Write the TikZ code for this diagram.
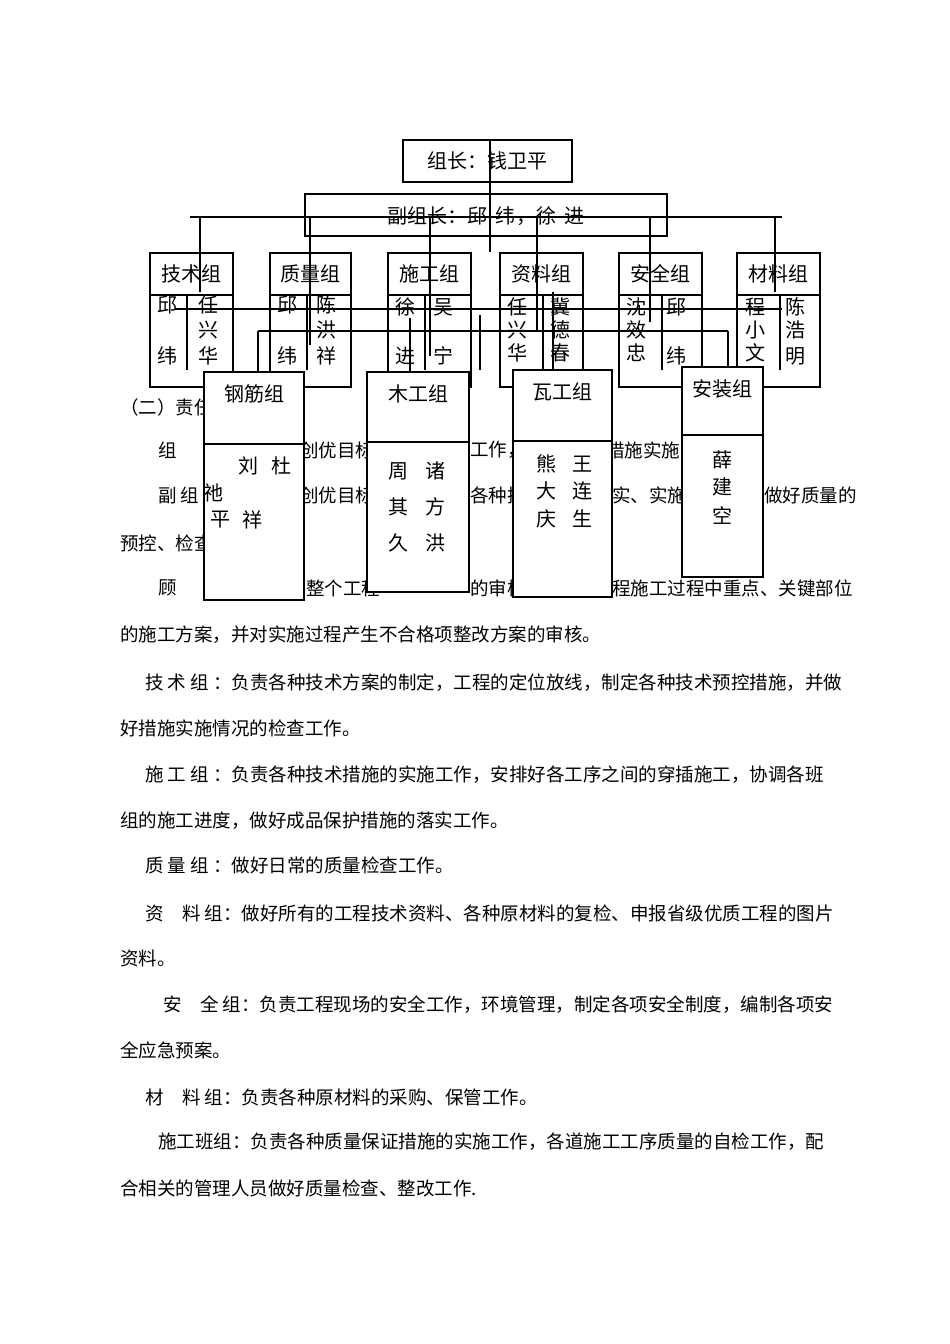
\documentclass[tikz,border=0pt]{standalone}
\usepackage{fontspec}
\setmainfont{Noto Sans CJK SC}
\begin{document}
\begin{tikzpicture}[x=1pt,y=-1pt,
  bx/.style={draw,line width=1.8pt,fill=white},
  ln/.style={line width=1.8pt},
  tx/.style={font=\fontsize{18.5}{18.5}\selectfont,inner sep=0pt,anchor=west},
  ch/.style={font=\fontsize{20}{20}\selectfont,inner sep=0pt}]
\useasboundingbox (0,0) rectangle (950,1344);
% body text (under the boxes)
\node[tx] at (120,407) {（二）责任};
\node[tx] at (158,450) {组};
\node[tx] at (300,450) {创优目标};
\node[tx] at (470,450) {工作，};
\node[tx] at (606,450) {措施实施};
\node[tx] at (158,495) {副 组};
\node[tx] at (300,495) {创优目标};
\node[tx] at (470,495) {各种措};
\node[tx] at (612,495) {实、实施};
\node[tx] at (764,495) {做好质量的};
\node[tx] at (120,543) {预控、检查};
\node[tx] at (158,588) {顾};
\node[tx] at (306,588) {整个工程};
\node[tx] at (470,588) {的审核};
\node[tx] at (612,588) {程施工过程中重点、关键部位};
\node[tx] at (120,635) {的施工方案，并对实施过程产生不合格项整改方案的审核。};
\node[tx] at (145,683) {技 术 组 ：负责各种技术方案的制定，工程的定位放线，制定各种技术预控措施，并做};
\node[tx] at (120,728) {好措施实施情况的检查工作。};
\node[tx] at (145,775) {施 工 组 ：负责各种技术措施的实施工作，安排好各工序之间的穿插施工，协调各班};
\node[tx] at (120,821) {组的施工进度，做好成品保护措施的落实工作。};
\node[tx] at (145,865) {质 量 组 ：做好日常的质量检查工作。};
\node[tx] at (145,913) {资　料 组：做好所有的工程技术资料、各种原材料的复检、申报省级优质工程的图片};
\node[tx] at (120,958) {资料。};
\node[tx] at (163,1005) {安　全 组：负责工程现场的安全工作，环境管理，制定各项安全制度，编制各项安};
\node[tx] at (120,1050) {全应急预案。};
\node[tx] at (145,1097) {材　料 组：负责各种原材料的采购、保管工作。};
\node[tx] at (158,1142) {施工班组：负责各种质量保证措施的实施工作，各道施工工序质量的自检工作，配};
\node[tx] at (120,1188) {合相关的管理人员做好质量检查、整改工作.};
% top boxes
\draw[bx] (403,140) rectangle (572,182) node[midway,ch] (zz) {组长：钱卫平};
\draw[bx] (305,194) rectangle (667,236);
\node[ch] (fz) at (486,216) {副组长：邱\ \ 纬，徐\ \ 进};
\foreach \a/\b/\n/\t in {150/233/js/技术组,270/351/zl/质量组,388/471/sg/施工组,500/583/zlz/资料组,619/702/aq/安全组,737/820/cl/材料组}{
  \draw[bx] (\a,253) rectangle (\b,387);
  \draw[ln] (\a,295) -- (\b,295);
  \node[ch] (\n) at ({(\a+\b)/2},274) {\t};
}
\foreach \x in {187,307,425,543,662,780}{\draw[ln] (\x,295) -- (\x,370);}
% names top row
\foreach \x/\y/\c in {167/305/邱,167/356/纬,208/305/任,208/330/兴,208/356/华,
  287/305/邱,287/356/纬,326/305/陈,326/330/洪,326/356/祥,
  405/307/徐,405/356/进,443/307/吴,443/356/宁,
  517/307/任,517/330/兴,517/353/华,560/307/冀,560/330/德,560/353/春,
  636/307/沈,636/330/效,636/353/忠,676/307/邱,676/356/纬,
  755/307/程,755/330/小,755/353/文,795/307/陈,795/330/浩,795/356/明}
  {\node[ch] at (\x,\y) {\c};}
% connectors
\draw[ln] (490,140) -- (490,252);
\draw[ln] (190,217) -- (782,217);
\draw[ln] (200,217) -- (200,292);
\draw[ln] (310,217) -- (310,345);
\draw[ln] (430,217) -- (430,356);
\draw[ln] (537,217) -- (537,330);
\draw[ln] (650,217) -- (650,322);
\draw[ln] (775,217) -- (775,292);
\draw[ln] (175,309) -- (782,309);
\draw[ln] (258,331) -- (728,331);
\draw[ln] (258,331) -- (258,380);
\draw[ln] (728,331) -- (728,380);
\draw[ln] (480,315) -- (480,370);
\draw[ln] (410,318) -- (410,380);
\draw[ln] (553,292) -- (553,380);
% lower boxes
\foreach \a/\b/\t/\bo/\d/\n/\lab in {204/304/372/600/444/gj/钢筋组,367/469/372/592/442/mg/木工组,513/612/370/597/441/wg/瓦工组,682/763/367/577/435/az/安装组}{
  \draw[bx] (\a,\t) rectangle (\b,\bo);
  \draw[ln] (\a,\d) -- (\b,\d);
  \node[ch] (\n) at ({(\a+\b)/2},{\t+22}) {\lab};
}
\foreach \x/\y/\c in {248/466/刘,281/466/杜,213/493/祂,220/520/平,252/520/祥,
  398/471/周,435/471/诸,398/507/其,435/507/方,398/543/久,435/543/洪,
  546/464/熊,582/464/王,546/491/大,582/491/连,546/519/庆,582/519/生,
  722/460/薛,722/487/建,722/515/空}
  {\node[ch] at (\x,\y) {\c};}
\end{tikzpicture}
\end{document}
